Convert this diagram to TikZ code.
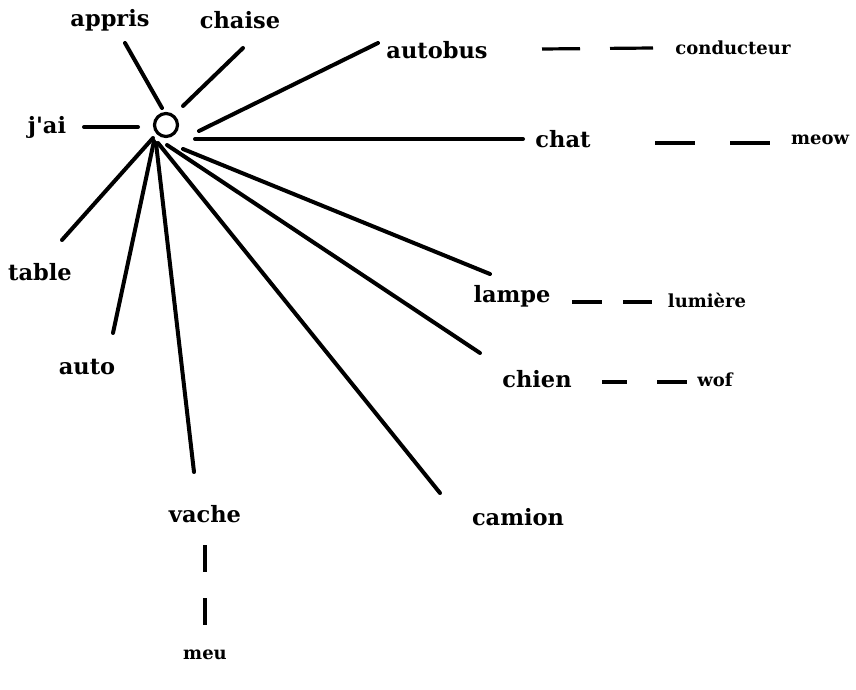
\documentclass[tikz,border=0pt]{standalone}
\usepackage{fontspec}
\setmainfont{DejaVu Serif}[Ligatures=TeXOff]
\begin{document}
\begin{tikzpicture}[x=1pt,y=-1pt,
  big/.style={font=\bfseries\fontsize{22.5}{26}\selectfont,inner sep=0pt},
  small/.style={font=\bfseries\fontsize{18}{21}\selectfont,inner sep=0pt},
  spoke/.style={line width=4pt,line cap=round},
  dashlink/.style={line width=3.2pt}]
\useasboundingbox (0,0) rectangle (856,690);
% hub
\node[draw,circle,line width=3.2pt,minimum size=23pt,inner sep=0pt] (hub) at (166,125) {};
% labels
\node[big] (appris) at (110,20) {appris};
\node[big] (chaise) at (240,20) {chaise};
\node[big] (jai) at (47,127) {j'ai};
\node[big] (autobus) at (437,50) {autobus};
\node[small] (conducteur) at (733,48) {conducteur};
\node[big] (chat) at (563,139) {chat};
\node[small] (meow) at (820,140) {meow};
\node[big] (table) at (40,272) {table};
\node[big] (auto) at (87,367) {auto};
\node[big] (lampe) at (512,296) {lampe};
\node[small] (lumiere) at (707,300) {lumière};
\node[big] (chien) at (537,379) {chien};
\node[small] (wof) at (715,380) {wof};
\node[big] (vache) at (205,514) {vache};
\node[big] (camion) at (518,517) {camion};
\node[small] (meu) at (205,655) {meu};
% spoke end points
\coordinate (sAppris) at (162,108);   \coordinate (eAppris) at (125,43);
\coordinate (sChaise) at (183,106);   \coordinate (eChaise) at (243,48);
\coordinate (sJai) at (138,127);      \coordinate (eJai) at (84,127);
\coordinate (sAutobus) at (199,131);  \coordinate (eAutobus) at (378,43);
\coordinate (sChat) at (195,139);     \coordinate (eChat) at (523,139);
\coordinate (sTable) at (153,138);    \coordinate (eTable) at (62,240);
\coordinate (sAuto) at (154,141);     \coordinate (eAuto) at (113,333);
\coordinate (sVache) at (156,143);    \coordinate (eVache) at (194,472);
\coordinate (sCamion) at (158,143);   \coordinate (eCamion) at (440,493);
\coordinate (sChien) at (167,145);    \coordinate (eChien) at (480,353);
\coordinate (sLampe) at (183,149);    \coordinate (eLampe) at (490,274);
\foreach \n in {Appris,Chaise,Jai,Autobus,Chat,Table,Auto,Vache,Camion,Chien,Lampe}
  \draw[spoke] (s\n) -- (e\n);
% dashed links
\coordinate (d1a) at (542,49); \coordinate (d1b) at (653,48);
\draw[dashlink,dash pattern=on 38pt off 30pt on 43pt] (d1a) -- (d1b);
\coordinate (d2a) at (655,143); \coordinate (d2b) at (770,143);
\draw[dashlink,dash pattern=on 40pt off 35pt on 40pt] (d2a) -- (d2b);
\coordinate (d3a) at (572,302); \coordinate (d3b) at (652,302);
\draw[dashlink,dash pattern=on 30pt off 21pt on 29pt] (d3a) -- (d3b);
\coordinate (d4a) at (602,382); \coordinate (d4b) at (687,382);
\draw[dashlink,dash pattern=on 25pt off 30pt on 30pt] (d4a) -- (d4b);
\coordinate (d5a) at (205,545); \coordinate (d5b) at (205,625);
\draw[dashlink,dash pattern=on 27pt off 26pt on 27pt] (d5a) -- (d5b);
\end{tikzpicture}
\end{document}
